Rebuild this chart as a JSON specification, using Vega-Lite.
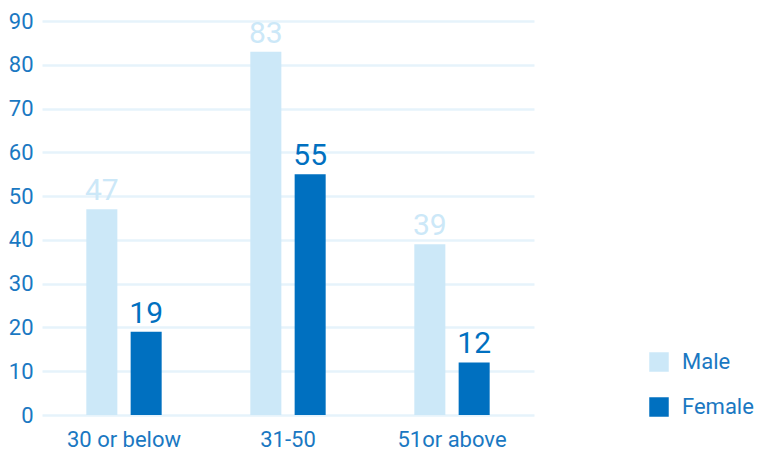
{
  "$schema": "https://vega.github.io/schema/vega-lite/v6.json",
  "width": 492,
  "height": 394,
  "autosize": "none",
  "padding": {"left": 42, "top": 21, "right": 224, "bottom": 39},
  "background": "white",
  "config": {
    "view": {"stroke": null},
    "font": "Roboto"
  },
  "data": {
    "values": [
      {"age": "30 or below", "gender": "Male", "count": 47},
      {"age": "30 or below", "gender": "Female", "count": 19},
      {"age": "31-50", "gender": "Male", "count": 83},
      {"age": "31-50", "gender": "Female", "count": 55},
      {"age": "51or above", "gender": "Male", "count": 39},
      {"age": "51or above", "gender": "Female", "count": 12}
    ]
  },
  "encoding": {
    "x": {
      "field": "age",
      "type": "nominal",
      "sort": ["30 or below", "31-50", "51or above"],
      "scale": {"paddingInner": 0, "paddingOuter": 0},
      "axis": {
        "title": null,
        "labelAngle": 0,
        "labelFontSize": 22,
        "labelColor": "#1a78c2",
        "labelPadding": 14,
        "ticks": false,
        "domain": false
      }
    },
    "xOffset": {
      "field": "gender",
      "type": "nominal",
      "sort": ["Male", "Female"],
      "scale": {"paddingInner": 0.3, "paddingOuter": 1}
    },
    "y": {
      "field": "count",
      "type": "quantitative",
      "scale": {"domain": [0, 90], "nice": false},
      "axis": {
        "title": null,
        "values": [0, 10, 20, 30, 40, 50, 60, 70, 80, 90],
        "labelFontSize": 22,
        "labelColor": "#1a78c2",
        "labelPadding": 9,
        "ticks": false,
        "domain": false,
        "gridColor": "#e6f3fb",
        "gridWidth": 2.5,
        "gridOpacity": 1
      }
    },
    "color": {
      "field": "gender",
      "type": "nominal",
      "sort": ["Male", "Female"],
      "scale": {"domain": ["Male", "Female"], "range": ["#cce8f8", "#0070c0"]},
      "legend": {
        "title": null,
        "orient": "none",
        "legendX": 606,
        "legendY": 330,
        "symbolType": "square",
        "symbolSize": 380,
        "symbolStrokeWidth": 0,
        "labelFontSize": 22,
        "labelColor": "#1a78c2",
        "labelOffset": 12,
        "rowPadding": 23
      }
    }
  },
  "layer": [
    {"mark": {"type": "bar"}},
    {
      "mark": {"type": "text", "baseline": "bottom", "dy": -3, "fontSize": 30},
      "encoding": {"text": {"field": "count", "type": "quantitative"}}
    }
  ]
}
